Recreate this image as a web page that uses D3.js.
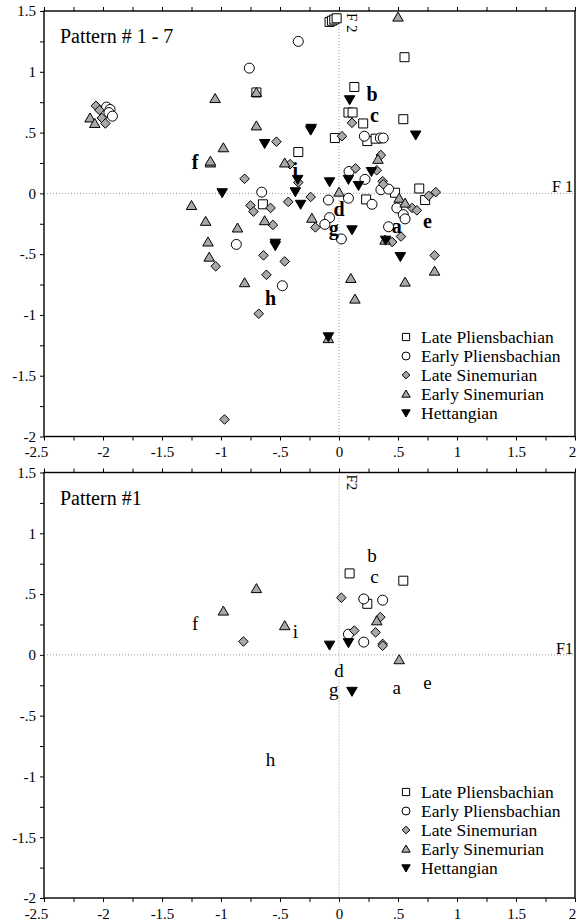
<!DOCTYPE html>
<html>
<head>
<meta charset="utf-8">
<script src="https://cdn.jsdelivr.net/npm/d3@7"></script>
<style>
  html, body { margin: 0; padding: 0; background: #fff; }
  svg text { font-family: "Liberation Serif", "Times New Roman", serif !important; }
</style>
</head>
<body>
<svg id="chart" width="577" height="921"></svg>
<script>
// ---- axis ticks ----
const xTickValues = [-2.5, -2, -1.5, -1, -0.5, 0, 0.5, 1, 1.5, 2];
const xTickLabels = ["-2.5", "-2", "-1.5", "-1", "-.5", "0", ".5", "1", "1.5", "2"];
const yTickValues = [1.5, 1, 0.5, 0, -0.5, -1, -1.5, -2];
const yTickLabels = ["1.5", "1", ".5", "0", "-.5", "-1", "-1.5", "-2"];

// ---- series names ----
const seriesNames = ["Late Pliensbachian", "Early Pliensbachian", "Late Sinemurian", "Early Sinemurian", "Hettangian"];

// ---- Pattern # 1 - 7 : F1 / F2 scores ----
const lateP_all = [
  [-0.08, 1.41], [-0.06, 1.42], [-0.04, 1.43], [-0.02, 1.44],
  [0.555, 1.12], [0.13, 0.875], [0.08, 0.665], [0.115, 0.665], [0.205, 0.575], [0.545, 0.61],
  [-0.035, 0.455], [0.24, 0.43], [0.31, 0.45], [-0.345, 0.34], [-0.70, 0.83],
  [-0.645, -0.09], [0.23, -0.05], [0.475, 0.005], [0.68, 0.04], [0.73, -0.055]
];
const earlyP_all = [
  [-1.97, 0.71], [-1.94, 0.69], [-1.95, 0.665], [-1.92, 0.635],
  [-0.345, 1.25], [-0.76, 1.03], [0.215, 0.47], [0.35, 0.455], [0.375, 0.455],
  [0.085, 0.18], [0.22, 0.115], [-0.655, 0.01],
  [-0.09, -0.055], [0.08, -0.04], [0.28, -0.09], [0.355, 0.03], [0.42, 0.035],
  [0.49, -0.12], [0.545, -0.175], [0.56, -0.21],
  [-0.08, -0.2], [-0.12, -0.255], [0.02, -0.375], [0.42, -0.275], [-0.87, -0.42], [-0.48, -0.76]
];
const lateS_all = [
  [-2.06, 0.72], [-2.03, 0.685], [-2.01, 0.62], [-1.98, 0.575],
  [-0.53, 0.425], [0.11, 0.58], [0.025, 0.47], [-0.415, 0.24], [0.355, 0.315], [0.14, 0.205], [0.32, 0.19],
  [-0.80, 0.12], [-0.345, 0.09], [0.37, 0.10], [0.375, 0.075], [0.76, -0.02], [0.82, 0.01],
  [-0.24, -0.03], [-0.43, -0.07], [-0.75, -0.10], [-0.725, -0.15], [-0.58, -0.12], [-0.56, -0.26],
  [0.62, -0.12], [0.66, -0.14], [-0.20, -0.28], [0.45, -0.40], [0.525, -0.355], [0.81, -0.51],
  [-1.045, -0.60], [-0.64, -0.51], [-0.46, -0.56], [-0.615, -0.67], [-0.68, -0.99], [-0.97, -1.86]
];
const earlyS_all = [
  [-2.11, 0.62], [-2.07, 0.575],
  [0.50, 1.45], [-0.70, 0.83], [-1.05, 0.78], [-0.70, 0.555], [-0.98, 0.375],
  [-1.09, 0.25], [-1.09, 0.265],
  [-0.46, 0.25], [0.33, 0.28], [0.0, 0.01], [0.51, -0.04], [0.56, -0.08],
  [-1.25, -0.10], [-1.13, -0.23], [-0.86, -0.285], [-0.63, -0.225], [-0.23, -0.205],
  [-1.11, -0.40], [-1.10, -0.525], [-0.80, -0.735], [0.39, -0.385],
  [0.10, -0.70], [0.56, -0.73], [0.81, -0.64], [0.135, -0.87], [-0.09, -1.195]
];
const hett_all = [
  [-0.63, 0.41], [-0.24, 0.52], [-0.235, 0.535], [0.09, 0.77], [0.65, 0.48],
  [-0.35, 0.115], [-0.08, 0.095], [0.08, 0.115], [0.165, 0.065], [0.275, 0.18],
  [-0.99, 0.005], [-0.37, 0.013], [-0.325, -0.09], [0.11, -0.30], [0.395, -0.385],
  [-0.54, -0.41], [-0.54, -0.43], [0.52, -0.52], [-0.09, -1.18]
];

// ---- Pattern #1 : F1 / F2 scores ----
const lateP_p1 = [[0.09, 0.67], [0.545, 0.61], [0.24, 0.42]];
const earlyP_p1 = [[0.21, 0.46], [0.37, 0.45], [0.08, 0.17], [0.21, 0.105]];
const lateS_p1 = [[-0.81, 0.11], [0.02, 0.47], [0.13, 0.20], [0.31, 0.185], [0.35, 0.31], [0.37, 0.09], [0.37, 0.075]];
const earlyS_p1 = [[-0.70, 0.545], [-0.98, 0.36], [-0.46, 0.24], [0.32, 0.28], [0.51, -0.04]];
const hett_p1 = [[-0.08, 0.08], [0.08, 0.10], [0.11, -0.30]];

// ---- letter annotations (centre of each letter, in F1 / F2 units) ----
const letterNames = ["a", "b", "c", "d", "e", "f", "g", "h", "i"];
const letterX = [0.49, 0.28, 0.30, 0.0, 0.75, -1.22, -0.045, -0.58, -0.37];
const letterY = [-0.265, 0.82, 0.645, -0.13, -0.23, 0.26, -0.285, -0.86, 0.19];

// ---- symbols ----
const shapes = ["square", "circle", "diamond", "triUp", "triDown"];
const fills = ["#ffffff", "#ffffff", "#a8a8a8", "#a8a8a8", "#000000"];

function shapePath(kind, s) {
  // s = nominal half-size in px
  switch (kind) {
    case "square": return `M${-s},${-s}H${s}V${s}H${-s}Z`;
    case "circle": return `M${s},0A${s},${s} 0 1,1 ${-s},0A${s},${s} 0 1,1 ${s},0Z`;
    case "diamond": return `M0,${-s}L${s},0L0,${s}L${-s},0Z`;
    case "triUp": return `M0,${-s}L${s * 1.05},${s * 0.8}L${-s * 1.05},${s * 0.8}Z`;
    case "triDown": return `M0,${s}L${s * 1.05},${-s * 0.8}L${-s * 1.05},${-s * 0.8}Z`;
  }
}
const markerSize = { square: 4.5, circle: 5, diamond: 4.8, triUp: 5, triDown: 5 };

const svg = d3.select("#chart");
const SERIF = "'Liberation Serif', 'Times New Roman', serif";

function drawPanel(cfg) {
  const x = d3.scaleLinear().domain([-2.5, 2]).range([44, 575]);
  const y = d3.scaleLinear().domain([-2, 1.5]).range([cfg.bottom, cfg.top]);
  const g = svg.append("g").style("font-family", SERIF);

  // dotted zero lines
  g.append("line").attr("x1", x(0)).attr("x2", x(0)).attr("y1", y(1.5)).attr("y2", y(-2))
    .attr("stroke", "#888").attr("stroke-width", 0.8).attr("stroke-dasharray", "1,2");
  g.append("line").attr("x1", x(-2.5)).attr("x2", x(2)).attr("y1", y(0)).attr("y2", y(0))
    .attr("stroke", "#888").attr("stroke-width", 0.8).attr("stroke-dasharray", "1,2");

  const xMinor = d3.range(-2.5, 2.001, 0.25);
  const yMinor = d3.range(-2, 1.501, 0.25);
  const xLab = v => { const i = xTickValues.findIndex(t => Math.abs(t - v) < 1e-6); return i >= 0 ? xTickLabels[i] : ""; };
  const yLab = v => { const i = yTickValues.findIndex(t => Math.abs(t - v) < 1e-6); return i >= 0 ? yTickLabels[i] : ""; };

  const axB = g.append("g").attr("transform", `translate(0,${y(-2)})`)
    .call(d3.axisBottom(x).tickValues(xMinor).tickSize(4).tickPadding(6).tickFormat(xLab));
  const axL = g.append("g").attr("transform", `translate(${x(-2.5)},0)`)
    .call(d3.axisLeft(y).tickValues(yMinor).tickSize(4).tickPadding(4).tickFormat(yLab));
  const axT = g.append("g").attr("transform", `translate(0,${y(1.5)})`)
    .call(d3.axisTop(x).tickValues(xMinor).tickSize(4).tickFormat(""));
  [axB, axL, axT].forEach(a => {
    a.attr("font-family", null).style("font-family", SERIF);
    a.select(".domain").remove();
    a.selectAll(".tick line").attr("stroke", "#000").attr("stroke-width", 1);
    a.selectAll(".tick text").style("font-family", SERIF).attr("font-size", 15).attr("fill", "#000");
  });
  axB.selectAll(".tick text").filter(d => Math.abs(d + 2.5) < 1e-6).attr("dx", -8);
  axB.selectAll(".tick text").filter(d => Math.abs(d - 2) < 1e-6).attr("dx", -3);

  // frame
  g.append("rect").attr("x", x(-2.5)).attr("y", y(1.5))
    .attr("width", x(2) - x(-2.5)).attr("height", y(-2) - y(1.5))
    .attr("fill", "none").attr("stroke", "#000").attr("stroke-width", 1.4);

  // axis names
  g.append("text").attr("x", x(2) - 2).attr("y", y(0) - 1).attr("text-anchor", "end")
    .attr("font-size", 16).text(cfg.f1);
  g.append("text").attr("transform", `translate(${x(0) + 8},${y(1.5) + 2}) rotate(90)`)
    .attr("font-size", 15).text(cfg.f2);

  // title
  g.append("text").attr("x", 60).attr("y", y(1.5) + 32).attr("font-size", 20).text(cfg.title);

  // points
  cfg.series.forEach((pts, si) => {
    const kind = shapes[si];
    g.append("g").selectAll("path").data(pts).join("path")
      .attr("transform", d => `translate(${x(d[0])},${y(d[1])})`)
      .attr("d", shapePath(kind, markerSize[kind]))
      .attr("fill", fills[si]).attr("stroke", "#000").attr("stroke-width", 1);
  });

  // letters
  g.append("g").selectAll("text").data(letterNames).join("text")
    .attr("x", (d, i) => x(letterX[i])).attr("y", (d, i) => y(letterY[i]))
    .attr("text-anchor", "middle").attr("dominant-baseline", "central")
    .attr("font-size", cfg.letterSize).attr("font-weight", cfg.letterWeight)
    .text(d => d);

  // legend
  const lg = g.append("g");
  seriesNames.forEach((name, i) => {
    const ly = cfg.legendY + i * 19;
    const kind = shapes[i];
    lg.append("path").attr("transform", `translate(406,${ly})`)
      .attr("d", shapePath(kind, markerSize[kind] * 0.8))
      .attr("fill", fills[i]).attr("stroke", "#000").attr("stroke-width", 1);
    lg.append("text").attr("x", 421).attr("y", ly).attr("dominant-baseline", "central")
      .attr("font-size", 17.5).text(name);
  });
}

drawPanel({
  top: 11, bottom: 436.5, title: "Pattern # 1 - 7", f1: "F 1", f2: "F 2",
  series: [lateP_all, earlyP_all, lateS_all, earlyS_all, hett_all],
  letterSize: 20, letterWeight: "bold", legendY: 337
});
drawPanel({
  top: 472.5, bottom: 898, title: "Pattern #1", f1: "F1", f2: "F2",
  series: [lateP_p1, earlyP_p1, lateS_p1, earlyS_p1, hett_p1],
  letterSize: 19, letterWeight: "normal", legendY: 792
});
</script>
</body>
</html>
